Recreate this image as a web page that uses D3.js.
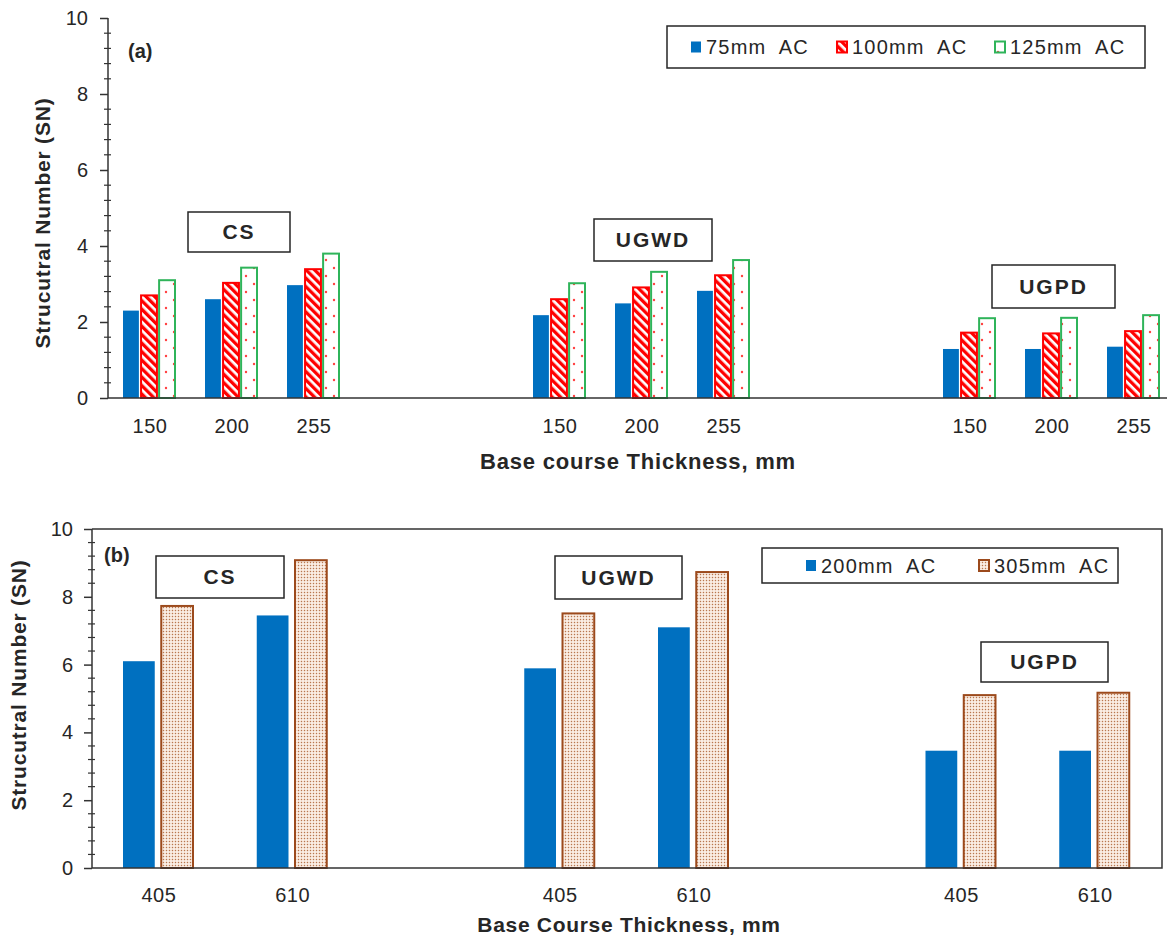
<!DOCTYPE html>
<html lang="en">
<head>
    <meta charset="UTF-8">
    <title>Structural Number</title>
    <script src="https://cdn.jsdelivr.net/npm/d3@7"></script>
    <style>
        body { margin: 0; background: #fff; }
        text { font-family: "Liberation Sans", Arial, sans-serif; fill: #262626; white-space: pre; }
    </style>
</head>
<body>
<script>
    // ---- data ----
    let groups = ["CS", "UGWD", "UGPD"];

    // panel (a)
    let thickA = ["150", "200", "255"];
    let seriesA = ["75mm  AC", "100mm  AC", "125mm  AC"];
    let ac75 = [2.30, 2.60, 2.97, 2.18, 2.49, 2.82, 1.29, 1.29, 1.35];
    let ac100 = [2.70, 3.03, 3.39, 2.60, 2.91, 3.23, 1.72, 1.70, 1.76];
    let ac125 = [3.10, 3.43, 3.80, 3.02, 3.32, 3.63, 2.10, 2.11, 2.18];

    // panel (b)
    let thickB = ["405", "610"];
    let seriesB = ["200mm  AC", "305mm  AC"];
    let ac200 = [6.10, 7.45, 5.89, 7.10, 3.46, 3.46];
    let ac305 = [7.73, 9.08, 7.51, 8.73, 5.10, 5.17];

    let yTicks = [0, 2, 4, 6, 8, 10];

    let W = 1167, H = 943;
    let svg = d3.select('body').append('svg')
        .attr('width', W).attr('height', H)
        .attr('viewBox', "0 0 " + W + " " + H);

    // ---- fill patterns ----
    let defs = svg.append('defs');
    let hatch = defs.append('pattern').attr('id', 'hatch')
        .attr('patternUnits', 'userSpaceOnUse')
        .attr('width', 6).attr('height', 6)
        .attr('patternTransform', 'rotate(-45)');
    hatch.append('rect').attr('width', 6).attr('height', 6).attr('fill', '#fff');
    hatch.append('rect').attr('width', 3.3).attr('height', 6).attr('fill', '#ff0000');

    let dots = defs.append('pattern').attr('id', 'dots')
        .attr('patternUnits', 'userSpaceOnUse')
        .attr('width', 16).attr('height', 16)
        .attr('x', 2).attr('y', 0);
    dots.append('rect').attr('width', 16).attr('height', 16).attr('fill', '#fff');
    dots.append('circle').attr('cx', 4).attr('cy', 4).attr('r', 1.2).attr('fill', '#ff4040');
    dots.append('circle').attr('cx', 12).attr('cy', 12).attr('r', 1.2).attr('fill', '#ff4040');

    let grain = defs.append('pattern').attr('id', 'grain')
        .attr('patternUnits', 'userSpaceOnUse')
        .attr('width', 3).attr('height', 3);
    grain.append('rect').attr('width', 3).attr('height', 3).attr('fill', '#fdf2ea');
    grain.append('rect').attr('x', 0.8).attr('y', 0.8).attr('width', 1.4).attr('height', 1.4).attr('fill', '#b9784e');

    let styleA = [
        {fill: '#0070c0', stroke: 'none', sw: 0},
        {fill: 'url(#hatch)', stroke: '#ff0000', sw: 2},
        {fill: 'url(#dots)', stroke: '#2fb45a', sw: 2}
    ];
    let styleB = [
        {fill: '#0070c0', stroke: 'none', sw: 0},
        {fill: 'url(#grain)', stroke: '#9c4a1c', sw: 2}
    ];

    // category keys with blank slots between the groups
    function slotKeys(thick, gap) {
        let keys = [];
        groups.forEach(function (g, gi) {
            thick.forEach(function (t) { keys.push(g + '-' + t); });
            if (gi < groups.length - 1) {
                for (let k = 0; k < gap; k++) keys.push('gap' + gi + k);
            }
        });
        return keys;
    }

    function rows(thick, series, values) {
        let out = [];
        groups.forEach(function (g, gi) {
            thick.forEach(function (t, ti) {
                let i = gi * thick.length + ti;
                series.forEach(function (s, si) {
                    out.push({key: g + '-' + t, label: t, s: s, si: si, v: values[si][i]});
                });
            });
        });
        return out;
    }

    function yAxis(g, y, x0, padding) {
        let ax = g.append('g').attr('transform', 'translate(' + x0 + ',0)')
            .call(d3.axisLeft(y).tickValues(yTicks).tickSize(8).tickPadding(padding)
                .tickFormat(d3.format('d')));
        ax.selectAll('text').style('font-size', '20px').attr('fill', '#262626');
        ax.selectAll('line, path').attr('stroke', '#333').attr('stroke-width', 1.5);
        ax.select('.domain').attr('d', 'M0,' + y(0) + 'V' + y(10));
        let minor = d3.range(0, 10.01, 0.4).filter(function (v) {
            return Math.abs(v / 2 - Math.round(v / 2)) > 0.01;
        });
        g.append('g').attr('transform', 'translate(' + x0 + ',0)')
            .selectAll('line').data(minor).enter().append('line')
            .attr('x1', -4).attr('x2', 3)
            .attr('y1', function (d) { return y(d); })
            .attr('y2', function (d) { return y(d); })
            .attr('stroke', '#333').attr('stroke-width', 1.2);
    }

    function labelBox(g, x0, y0, w, h, txt) {
        g.append('rect').attr('x', x0).attr('y', y0).attr('width', w).attr('height', h)
            .attr('fill', '#fff').attr('stroke', '#262626').attr('stroke-width', 1.5);
        g.append('text').attr('x', x0 + w / 2).attr('y', y0 + h / 2 + 7)
            .attr('text-anchor', 'middle').style('font-size', '21px').style('font-weight', 'bold')
            .style('letter-spacing', '2px').text(txt);
    }

    function legend(g, x0, y0, w, h, items, styles, xs, fs) {
        g.append('rect').attr('x', x0).attr('y', y0).attr('width', w).attr('height', h)
            .attr('fill', '#fff').attr('stroke', '#262626').attr('stroke-width', 1.5);
        items.forEach(function (s, i) {
            let st = styles[i];
            g.append('rect').attr('x', xs[i]).attr('y', y0 + h / 2 - 5.5)
                .attr('width', 10).attr('height', 11)
                .attr('fill', st.fill).attr('stroke', st.stroke).attr('stroke-width', st.sw);
            g.append('text').attr('x', xs[i] + 15).attr('y', y0 + h / 2 + 7)
                .style('font-size', fs).style('letter-spacing', '1.2px').text(s);
        });
    }

    // ================= panel (a) =================
    let gA = svg.append('g');
    let keysA = slotKeys(thickA, 2);
    let xA = d3.scaleBand().domain(keysA).range([108, 1174]).paddingInner(0);
    let xsA = d3.scaleBand().domain(seriesA).range([15, 67]).paddingInner(0.12);
    let yA = d3.scaleLinear().domain([0, 10]).range([398, 18]);
    let dataA = rows(thickA, seriesA, [ac75, ac100, ac125]);

    gA.selectAll('rect.bar').data(dataA).enter().append('rect')
        .attr('class', 'bar')
        .attr('x', function (d) { return xA(d.key) + xsA(d.s); })
        .attr('y', function (d) { return yA(d.v); })
        .attr('width', xsA.bandwidth())
        .attr('height', function (d) { return yA(0) - yA(d.v); })
        .attr('fill', function (d) { return styleA[d.si].fill; })
        .attr('stroke', function (d) { return styleA[d.si].stroke; })
        .attr('stroke-width', function (d) { return styleA[d.si].sw; });

    yAxis(gA, yA, 108, 12);
    gA.append('line').attr('x1', 108).attr('x2', 1167).attr('y1', yA(0)).attr('y2', yA(0))
        .attr('stroke', '#333').attr('stroke-width', 1.5);

    gA.selectAll('text.xlab').data(dataA.filter(function (d) { return d.si === 0; }))
        .enter().append('text').attr('class', 'xlab')
        .attr('x', function (d) { return xA(d.key) + xA.bandwidth() / 2 + 1; })
        .attr('y', yA(0) + 35)
        .attr('text-anchor', 'middle').style('font-size', '20px').style('letter-spacing', '0.5px')
        .text(function (d) { return d.label; });

    gA.append('text').attr('x', 638).attr('y', 469).attr('text-anchor', 'middle')
        .style('font-size', '22px').style('font-weight', 'bold').style('letter-spacing', '0.8px')
        .text('Base course Thickness, mm');
    gA.append('text').attr('transform', 'translate(50,223) rotate(-90)').attr('text-anchor', 'middle')
        .style('font-size', '21px').style('font-weight', 'bold').style('letter-spacing', '0.8px')
        .text('Strucutral Number (SN)');
    gA.append('text').attr('x', 128).attr('y', 58)
        .style('font-size', '20px').style('font-weight', 'bold').text('(a)');

    labelBox(gA, 188, 212, 102, 40, 'CS');
    labelBox(gA, 594, 219, 118, 42, 'UGWD');
    labelBox(gA, 992, 265, 123, 43, 'UGPD');
    legend(gA, 667, 26, 478, 42, seriesA, styleA, [691, 837, 995], '20px');

    // ================= panel (b) =================
    let gB = svg.append('g');
    let keysB = slotKeys(thickB, 1);
    let xB = d3.scaleBand().domain(keysB).range([92, 1162]).paddingInner(0);
    let xsB = d3.scaleBand().domain(seriesB).range([31, 101]).paddingInner(0.17);
    let yB = d3.scaleLinear().domain([0, 10]).range([868, 529]);
    let dataB = rows(thickB, seriesB, [ac200, ac305]);

    gB.selectAll('rect.bar').data(dataB).enter().append('rect')
        .attr('class', 'bar')
        .attr('x', function (d) { return xB(d.key) + xsB(d.s); })
        .attr('y', function (d) { return yB(d.v); })
        .attr('width', xsB.bandwidth())
        .attr('height', function (d) { return yB(0) - yB(d.v); })
        .attr('fill', function (d) { return styleB[d.si].fill; })
        .attr('stroke', function (d) { return styleB[d.si].stroke; })
        .attr('stroke-width', function (d) { return styleB[d.si].sw; });

    yAxis(gB, yB, 92, 11);
    // frame of plot (b)
    gB.append('path')
        .attr('d', 'M92,' + yB(10) + 'H1162V' + yB(0) + 'H92')
        .attr('fill', 'none').attr('stroke', '#333').attr('stroke-width', 1.5);

    gB.selectAll('text.xlab').data(dataB.filter(function (d) { return d.si === 0; }))
        .enter().append('text').attr('class', 'xlab')
        .attr('x', function (d) { return xB(d.key) + xB.bandwidth() / 2; })
        .attr('y', yB(0) + 34)
        .attr('text-anchor', 'middle').style('font-size', '20px').style('letter-spacing', '0.5px')
        .text(function (d) { return d.label; });

    gB.append('text').attr('x', 629).attr('y', 932).attr('text-anchor', 'middle')
        .style('font-size', '21px').style('font-weight', 'bold').style('letter-spacing', '0.7px')
        .text('Base Course Thickness, mm');
    gB.append('text').attr('transform', 'translate(26,685) rotate(-90)').attr('text-anchor', 'middle')
        .style('font-size', '21px').style('font-weight', 'bold').style('letter-spacing', '0.8px')
        .text('Strucutral Number (SN)');
    gB.append('text').attr('x', 104).attr('y', 562)
        .style('font-size', '20px').style('font-weight', 'bold').text('(b)');

    labelBox(gB, 156, 556, 128, 42, 'CS');
    labelBox(gB, 555, 556, 127, 43, 'UGWD');
    labelBox(gB, 981, 642, 127, 40, 'UGPD');
    legend(gB, 762, 548, 356, 35, seriesB, styleB, [806, 979], '20px');
</script>
</body>
</html>
